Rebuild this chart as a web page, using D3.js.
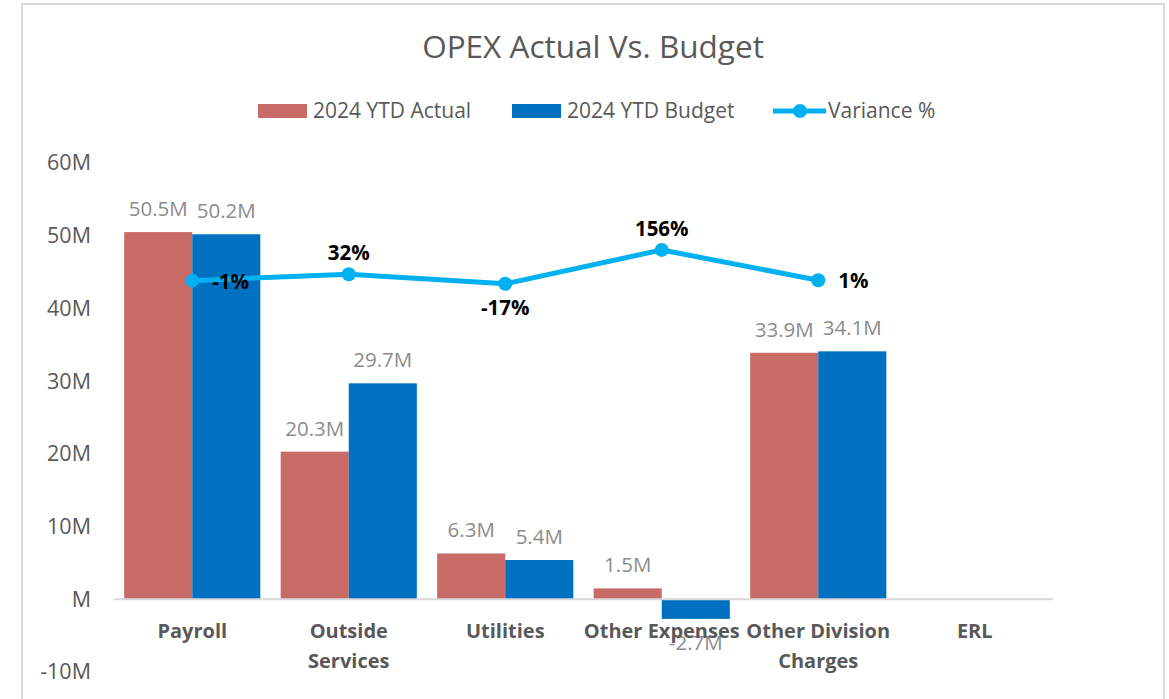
<!DOCTYPE html>
<html lang="en">
<head>
<meta charset="utf-8">
<title>OPEX Actual Vs. Budget</title>
<script src="https://d3js.org/d3.v7.js"></script>
<style>
  body { margin: 0; background: #fff; }
  svg text { font-family: "Open Sans", Lato, sans-serif; }
</style>
</head>
<body>
<script>
  // chart values (millions / fraction)
  const categories = ["Payroll", "Outside Services", "Utilities", "Other Expenses", "Other Division Charges", "ERL"];
  const categoryLines = [["Payroll"], ["Outside", "Services"], ["Utilities"], ["Other Expenses"], ["Other Division", "Charges"], ["ERL"]];
  const actual = [50.5, 20.3, 6.3, 1.5, 33.9, null];
  const budget = [50.2, 29.7, 5.4, -2.7, 34.1, null];
  const variance = [-0.01, 0.32, -0.17, 1.56, 0.01, null];
  const varianceLabelPos = ["right", "above", "below", "above", "right", null];
  const yTicks = [-10, 0, 10, 20, 30, 40, 50, 60];

  const w = 1169, h = 699;
  const margin = {top: 163, right: 116, bottom: 27, left: 114};
  const innerW = w - margin.left - margin.right;
  const innerH = h - margin.top - margin.bottom;

  const svg = d3.select("body").append("svg")
    .attr("width", w)
    .attr("height", h);

  // chart frame
  svg.append("rect")
    .attr("x", 22).attr("y", 4)
    .attr("width", 1142).attr("height", 720)
    .attr("fill", "#fff")
    .attr("stroke", "#d9d9d9")
    .attr("stroke-width", 2);

  svg.append("text")
    .attr("x", 593).attr("y", 58)
    .attr("text-anchor", "middle")
    .attr("font-size", 31.5)
    .attr("fill", "#595959")
    .text("OPEX Actual Vs. Budget");

  const g = svg.append("g").attr("transform", `translate(${margin.left},${margin.top})`);

  const x0 = d3.scaleBand().domain(categories).range([0, innerW]).paddingInner(0.13).paddingOuter(0.065);
  const x1 = d3.scaleBand().domain(["actual", "budget"]).range([0, x0.bandwidth()]);
  const y = d3.scaleLinear().domain([-10, 60]).range([innerH, 0]);
  const y2 = d3.scaleLinear().domain([-20, 6]).range([innerH, 0]); // hidden secondary axis

  const colors = {actual: "#C86A66", budget: "#0070C0"};
  const fmtM = d => d.toFixed(1) + "M";

  // y axis
  const yAxis = g.append("g")
    .call(d3.axisLeft(y).tickValues(yTicks).tickSize(0).tickPadding(23)
      .tickFormat(d => d === 0 ? "M" : d + "M"));
  yAxis.select(".domain").remove();
  yAxis.selectAll("text").attr("font-size", 21.5).attr("fill", "#595959");

  // bars
  const rows = categories.map((c, i) => ({c, actual: actual[i], budget: budget[i]}));
  const groups = g.selectAll(".grp").data(rows).enter().append("g")
    .attr("transform", d => `translate(${x0(d.c)},0)`);

  ["actual", "budget"].forEach(key => {
    groups.filter(d => d[key] !== null).append("rect")
      .attr("x", x1(key))
      .attr("y", d => y(Math.max(0, d[key])))
      .attr("width", x1.bandwidth())
      .attr("height", d => Math.abs(y(d[key]) - y(0)))
      .attr("fill", colors[key]);

    groups.filter(d => d[key] !== null).append("text")
      .attr("x", x1(key) + x1.bandwidth() / 2)
      .attr("y", d => d[key] >= 0 ? y(d[key]) - 16 : y(d[key]) + 31)
      .attr("text-anchor", "middle")
      .attr("font-size", 20.5)
      .attr("fill", "#8c8c8c")
      .text(d => fmtM(d[key]));
  });

  // baseline at zero
  g.append("line")
    .attr("x1", 0).attr("x2", innerW)
    .attr("y1", y(0)).attr("y2", y(0))
    .attr("stroke", "#d9d9d9").attr("stroke-width", 2);

  // x axis labels
  const xAxis = g.append("g")
    .attr("transform", `translate(0,${y(0)})`)
    .call(d3.axisBottom(x0).tickSize(0).tickFormat(""));
  xAxis.select(".domain").remove();
  xAxis.selectAll(".tick").each(function(d, i) {
    const t = d3.select(this).append("text")
      .attr("text-anchor", "middle")
      .attr("font-size", 20)
      .attr("font-weight", "bold")
      .attr("fill", "#595959");
    categoryLines[i].forEach((line, k) => {
      t.append("tspan").attr("x", 0).attr("y", 39 + k * 30).text(line);
    });
  });

  // variance line
  const vpts = categories.map((c, i) => ({c, v: variance[i], pos: varianceLabelPos[i]})).filter(d => d.v !== null);
  const cx = d => x0(d.c) + x0.bandwidth() / 2;

  g.append("path")
    .datum(vpts)
    .attr("fill", "none")
    .attr("stroke", "#00B0F0")
    .attr("stroke-width", 5)
    .attr("stroke-linejoin", "round")
    .attr("d", d3.line().x(cx).y(d => y2(d.v)));

  g.selectAll(".vdot").data(vpts).enter().append("circle")
    .attr("cx", cx).attr("cy", d => y2(d.v))
    .attr("r", 7)
    .attr("fill", "#00B0F0");

  g.selectAll(".vlab").data(vpts).enter().append("text")
    .attr("x", d => d.pos === "right" ? cx(d) + 20 : cx(d))
    .attr("y", d => d.pos === "above" ? y2(d.v) - 14 : d.pos === "below" ? y2(d.v) + 31 : y2(d.v) + 8)
    .attr("text-anchor", d => d.pos === "right" ? "start" : "middle")
    .attr("font-size", 20.5)
    .attr("font-weight", "bold")
    .attr("fill", "#000")
    .text(d => Math.round(d.v * 100) + "%");

  // legend
  const legend = svg.append("g").attr("font-size", 21).attr("fill", "#595959");
  const legendItems = [
    {label: "2024 YTD Actual", type: "rect", color: colors.actual, x: 258},
    {label: "2024 YTD Budget", type: "rect", color: colors.budget, x: 512},
    {label: "Variance %", type: "line", color: "#00B0F0", x: 773}
  ];
  legendItems.forEach(it => {
    if (it.type === "rect") {
      legend.append("rect").attr("x", it.x).attr("y", 104).attr("width", 49).attr("height", 14).attr("fill", it.color);
    } else {
      legend.append("line").attr("x1", it.x).attr("x2", it.x + 53).attr("y1", 111).attr("y2", 111)
        .attr("stroke", it.color).attr("stroke-width", 5);
      legend.append("circle").attr("cx", it.x + 27).attr("cy", 111).attr("r", 7).attr("fill", it.color);
    }
    legend.append("text").attr("x", it.x + 55).attr("y", 118).attr("fill", "#595959").text(it.label);
  });
</script>
</body>
</html>
